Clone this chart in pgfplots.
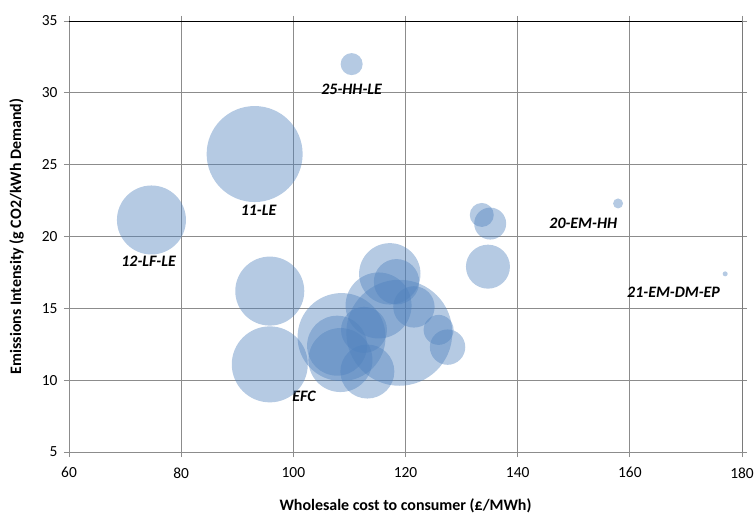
\documentclass[border=0pt]{standalone}
\usepackage{fontspec}
\setmainfont{Carlito}
\usepackage{pgfplots}
\pgfplotsset{compat=1.18}
\definecolor{bub}{HTML}{4F81BD}
\definecolor{gridc}{HTML}{8C8C8C}

% x, y, bubble radius (px)
\pgfplotstableread{
x     y     r
74.7  21.15 34.5
93.1  25.74 48
110.4 32.0  11
95.8  16.2  34.5
95.8  11.1  38
157.9 22.3  5
177.0 17.4  2.5
133.6 21.5  12
135.1 20.9  16
134.7 17.9  22
117.2 17.4  30.7
118.4 16.85 22.7
121.5 15.1  20.7
125.9 13.5  15
127.5 12.3  17.7
118.9 13.3  53
108.6 13.0  44
107.8 12.4  30
108.4 11.4  32
113.2 10.6  27
115.2 15.2  33
112.6 13.5  23
}\bubbles

\begin{document}
\begin{tikzpicture}
\path[use as bounding box] (0,0) rectangle (755bp,517bp);
\begin{axis}[
  at={(69bp,65bp)}, anchor=south west,
  scale only axis, width=673bp, height=431bp,
  xmin=60, xmax=180, ymin=5, ymax=35,
  xtick={60,80,...,180}, ytick={5,10,...,35},
  grid=major, grid style={gridc, line width=0.8pt},
  axis line style={gridc, line width=0.8pt},
  tick style={gridc, line width=0.8pt},
  tick align=outside, major tick length=5bp,
  /pgf/number format/assume math mode=true,
  ticklabel style={font=\fontsize{15.5}{17}\selectfont},
  xticklabel style={yshift=-7bp},
  yticklabel style={xshift=-3bp},
  xlabel={Wholesale cost to consumer (£/MWh)},
  ylabel={Emissions Intensity (g CO2/kWh Demand)},
  label style={font=\fontsize{16}{18}\selectfont\bfseries},
  xlabel style={at={(axis description cs:0.5,-0.125)}, anchor=center},
  ylabel style={at={(axis description cs:-0.078,0.5)}, anchor=center},
]
\addplot[
  scatter, only marks, mark=*,
  point meta=explicit,
  visualization depends on={\thisrow{r} \as \rad},
  mark options={draw opacity=0},
  scatter/use mapped color={draw=bub, fill=bub, draw opacity=0, fill opacity=0.42},
  scatter/@pre marker code/.append style={/tikz/mark size=\rad bp},
] table[x=x, y=y, meta=r] {\bubbles};

\draw[black, line width=0.8pt] (rel axis cs:0,1) -- (rel axis cs:1,1) -- (rel axis cs:1,0);

\begin{scope}[every node/.style={font=\fontsize{16}{18}\selectfont\bfseries\itshape}]
\node at (axis cs:110.4,30.26) {25-HH-LE};
\node at (axis cs:93.8,21.84) {11-LE};
\node at (axis cs:74.2,18.3) {12-LF-LE};
\node at (axis cs:151.7,20.9) {20-EM-HH};
\node at (axis cs:167.8,16.15) {21-EM-DM-EP};
\node at (axis cs:101.9,8.9) {EFC};
\end{scope}
\end{axis}
\end{tikzpicture}
\end{document}
